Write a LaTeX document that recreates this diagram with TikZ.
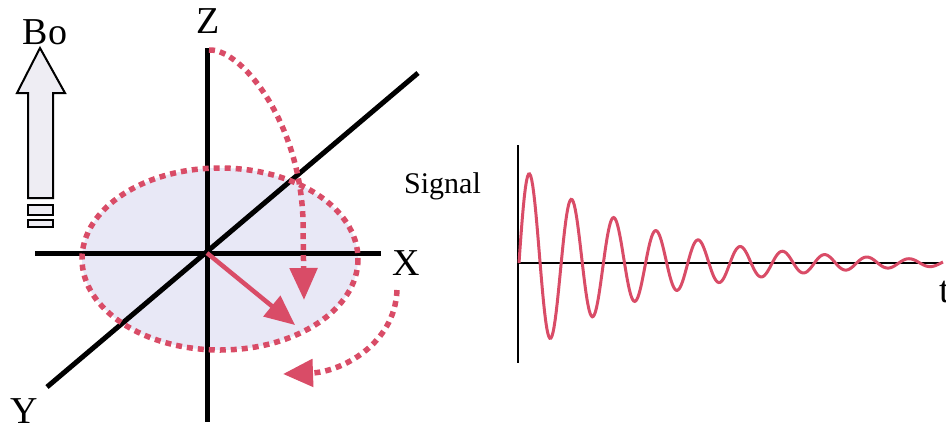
\documentclass[tikz,border=0pt]{standalone}
\usepackage{fontspec}
\setmainfont{Liberation Serif}
\usetikzlibrary{arrows.meta}
\definecolor{spinred}{HTML}{D94C67}
\definecolor{planefill}{HTML}{E8E8F6}
\definecolor{bofill}{HTML}{EEEDF3}

\begin{document}
\begin{tikzpicture}[x=1pt,y=-1pt,line width=4pt,
  axisline/.style={black,line width=5pt},
  dotspin/.style={spinred,line width=5.5pt,dash pattern=on 6pt off 5pt},
  bigtip/.style={-{Triangle[length=32pt,width=27pt]}},
  lbl/.style={font=\fontsize{38}{40}\selectfont,inner sep=0pt,anchor=base}]
\useasboundingbox (0,0) rectangle (946,424);
% rotating frame
\coordinate (O) at (207,253);
\coordinate (ztop) at (207,48);
\coordinate (zbot) at (207,422);
\coordinate (xl) at (35,253);
\coordinate (xr) at (381,253);
\coordinate (yl) at (47,387);
\coordinate (yr) at (418,73);
\fill[planefill] (220,259) ellipse [x radius=138,y radius=91];
\draw[axisline] (ztop) -- (zbot);
\draw[axisline] (xl) -- (xr);
\draw[axisline] (yl) -- (yr);
\draw[dotspin] (220,259) ellipse [x radius=138,y radius=91];
\draw[dotspin,bigtip] (209,50) .. controls (240,48) and (300,120) .. (303,220) -- (304,300);
\draw[dotspin,-{Triangle[length=30pt,width=27pt]}] (397,290) .. controls (395,345) and (340,372) .. (283,374);
\draw[spinred,line width=4.5pt,-{Triangle[length=30pt,width=26pt]}] (O) -- (295,325);
\node[lbl] (zlbl) at (208.5,33) {Z};
\node[lbl] (xlbl) at (406,275) {X};
\node[lbl] (ylbl) at (24,423) {Y};
% static field
\draw[line width=2pt,fill=bofill] (40,48) -- (65,93) -- (53,93) -- (53,198) -- (28,198) -- (28,93) -- (17,93) -- cycle;
\draw[line width=2pt,fill=bofill] (28,205) rectangle (53,215);
\draw[line width=2pt,fill=bofill] (28,220) rectangle (53,227);
\node[lbl] (bo) at (45,44) {Bo};
% free induction decay
\coordinate (sO) at (518,263);
\draw[line width=2.5pt] (518,145) -- (518,363);
\draw[line width=2.5pt] (sO) -- (943,263);
\draw[spinred,line width=3pt] plot[domain=0:424,samples=400] ({\x+519},{263-97*exp(-\x/125)*sin(8.5308*\x)});
\node[anchor=base,inner sep=0pt,font=\fontsize{30}{32}\selectfont] (signal) at (442.5,193) {Signal};
\node[lbl,anchor=base west] (tlbl) at (937,302) {t};
\end{tikzpicture}
\end{document}
